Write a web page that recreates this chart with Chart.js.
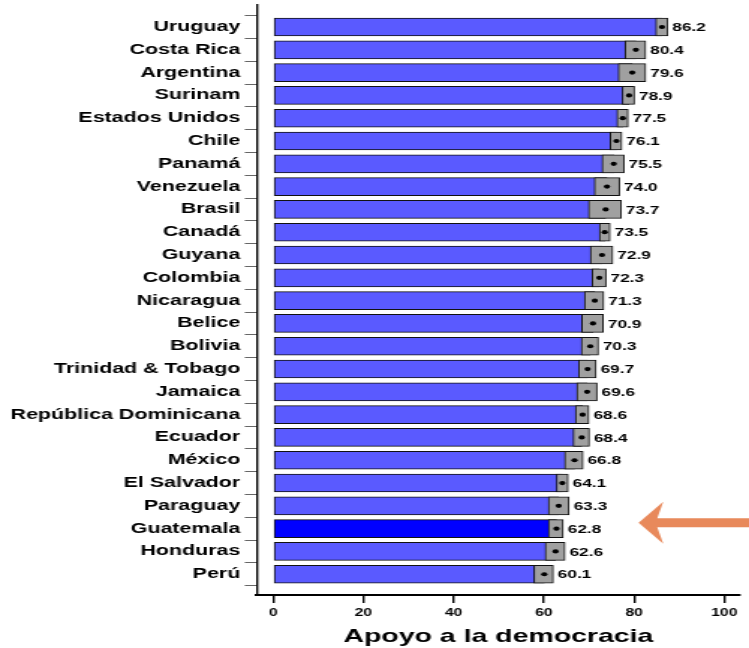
<!DOCTYPE html>
<html>
<head>
<meta charset="utf-8">
<script src="https://cdn.jsdelivr.net/npm/chart.js@4.4.1/dist/chart.umd.min.js"></script>
<style>
  html, body { margin: 0; padding: 0; background: #fff; overflow: hidden; }
  #wrap { position: absolute; left: 0; top: 0; width: 500px; height: 648px;
          transform: scaleX(1.498); transform-origin: 0 0; }
</style>
</head>
<body>
<div id="wrap"><canvas id="c"></canvas></div>
<script>
const countries = ["Uruguay","Costa Rica","Argentina","Surinam","Estados Unidos","Chile","Panamá","Venezuela","Brasil","Canadá","Guyana","Colombia","Nicaragua","Belice","Bolivia","Trinidad & Tobago","Jamaica","República Dominicana","Ecuador","México","El Salvador","Paraguay","Guatemala","Honduras","Perú"];
const values = [86.2,80.4,79.6,78.9,77.5,76.1,75.5,74.0,73.7,73.5,72.9,72.3,71.3,70.9,70.3,69.7,69.6,68.6,68.4,66.8,64.1,63.3,62.8,62.6,60.1];
const lower  = [84.8,78.0,76.5,77.4,76.2,74.7,72.9,71.2,69.9,72.3,70.3,70.7,69.0,68.4,68.3,67.7,67.3,67.0,66.5,64.6,62.8,61.0,61.0,60.3,57.8];
const upper  = [87.5,82.6,82.6,80.1,78.7,77.3,77.8,76.8,77.2,74.7,75.3,73.8,73.3,73.2,72.1,71.6,71.8,70.0,70.1,68.7,65.4,65.6,64.3,64.7,62.1];
const xTicks = [0,20,40,60,80,100];
const highlight = "Guatemala";
const axisTitle = "Apoyo a la democracia";

Chart.defaults.font.family = "'Liberation Sans', Arial, sans-serif";
Chart.defaults.color = "#000";

const idx = countries.map((_, i) => i);

const labelPlugin = {
  id: 'labels',
  afterDatasetsDraw(chart) {
    const {ctx, scales: {x, y}} = chart;
    ctx.save();
    ctx.font = "bold 11.5px 'Liberation Sans', Arial, sans-serif";
    ctx.fillStyle = "#000";
    ctx.textAlign = "left";
    ctx.textBaseline = "middle";
    idx.forEach(i => {
      ctx.fillText(values[i].toFixed(1), x.getPixelForValue(upper[i]) + 3, y.getPixelForValue(i) + 1);
    });
    ctx.restore();
  },
  afterDraw(chart) {
    const {ctx, scales: {x, y}} = chart;
    const gi = countries.indexOf(highlight);
    const cy = y.getPixelForValue(gi) - 6;
    const tip = x.getPixelForValue(81);
    const right = chart.width;
    ctx.save();
    ctx.fillStyle = "#E8895B";
    ctx.beginPath();
    ctx.moveTo(tip, cy);
    ctx.lineTo(tip + 16.5, cy - 21);
    ctx.lineTo(tip + 12.5, cy - 4.5);
    ctx.lineTo(right, cy - 4.5);
    ctx.lineTo(right, cy + 4.5);
    ctx.lineTo(tip + 12.5, cy + 4.5);
    ctx.lineTo(tip + 16.5, cy + 21);
    ctx.closePath();
    ctx.fill();
    ctx.restore();
  }
};

new Chart(document.getElementById('c'), {
  type: 'bar',
  data: {
    datasets: [
      {
        type: 'line',
        data: idx.map(i => ({x: values[i], y: i})),
        showLine: false,
        pointRadius: 2.1,
        pointBackgroundColor: '#000',
        pointBorderWidth: 0,
        order: 0
      },
      {
        data: idx.map(i => ({x: [lower[i], upper[i]], y: i})),
        backgroundColor: '#A0A0A0',
        borderColor: '#111',
        borderWidth: 1,
        borderSkipped: false,
        barThickness: 18,
        grouped: false,
        order: 1
      },
      {
        data: idx.map(i => ({x: values[i], y: i})),
        backgroundColor: countries.map(c => c === highlight ? '#0000FF' : '#5A5AFF'),
        borderColor: '#111',
        borderWidth: 1,
        borderSkipped: false,
        barThickness: 18,
        grouped: false,
        order: 2
      }
    ]
  },
  options: {
    indexAxis: 'y',
    responsive: true,
    maintainAspectRatio: false,
    animation: false,
    layout: { padding: { top: 5, right: 6, left: 0, bottom: 0 } },
    plugins: { legend: { display: false }, tooltip: { enabled: false } },
    scales: {
      y: {
        type: 'linear',
        offset: false,
        reverse: true,
        min: -0.965,
        max: 24.91,
        afterBuildTicks: s => { s.ticks = idx.map(i => ({value: i})); },
        afterFit: s => { s.width = 171.4; s.paddingTop = 0; s.paddingBottom = 0; },
        grid: { drawOnChartArea: false, drawTicks: true, tickLength: 8, color: '#555', lineWidth: 0.9 },
        border: { display: true, color: '#000', width: 1.4 },
        ticks: {
          autoSkip: false,
          padding: 3,
          font: { size: 14.3, weight: 'bold' },
          color: '#000',
          callback: v => countries[Math.round(v)]
        }
      },
      x: {
        type: 'linear',
        offset: false,
        min: -3.65,
        max: 103.5,
        afterBuildTicks: s => { s.ticks = xTicks.map(v => ({value: v})); },
        afterFit: s => { s.height = 53; s.paddingLeft = 0; s.paddingRight = 0; },
        grid: { drawOnChartArea: false, drawTicks: true, tickLength: 8, color: '#000', lineWidth: 1.4 },
        border: { display: true, color: '#000', width: 2 },
        ticks: {
          autoSkip: false,
          padding: 4,
          maxRotation: 0,
          font: { size: 10.5, weight: 'bold' },
          color: '#000'
        },
        title: {
          display: true,
          text: axisTitle,
          font: { size: 19, weight: 'bold' },
          color: '#000',
          padding: { top: 0, bottom: 0 }
        }
      }
    }
  },
  plugins: [labelPlugin]
});
</script>
</body>
</html>
